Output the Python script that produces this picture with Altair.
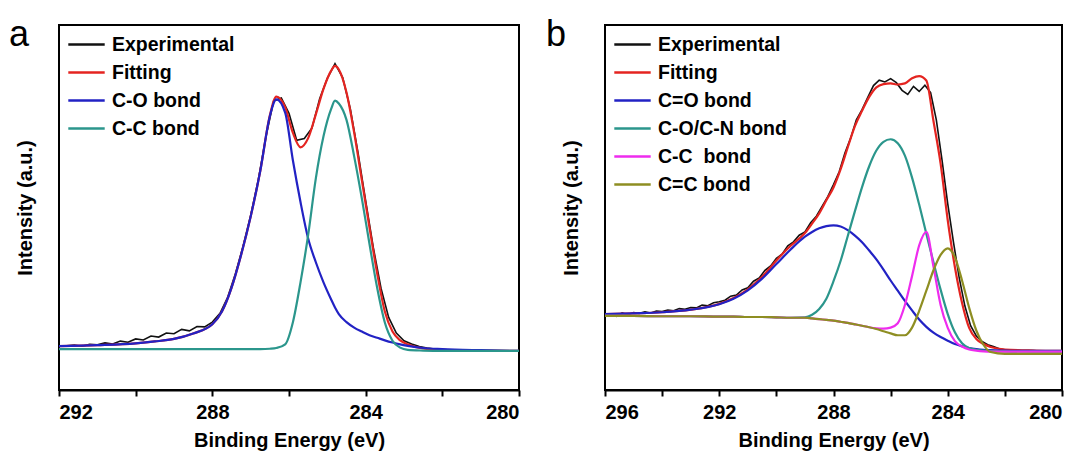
import altair as alt
import pandas as pd

# ---------------- Panel a data ----------------
E_A = [292, 291, 290, 289.5, 289, 288.5, 288, 287.75, 287.5, 287.25, 287, 286.75, 286.5, 286.33,
       286.1, 285.9, 285.7, 285.5, 285.3, 285.1, 284.9, 284.8, 284.7, 284.5, 284.3, 284.1, 283.9,
       283.7, 283.5, 283.3, 283.1, 282.9, 282.5, 282, 281, 280]
FIT_A = [12.0, 12.3, 12.8, 13.3, 14.0, 15.5, 18.0, 21.5, 28.0, 37.0, 47.5, 60.0, 75.2, 80.4,
         77.5, 70.5, 66.5, 69.0, 75.5, 82.5, 87.5, 88.8, 87.8, 81.5, 70.5, 57.5, 44.5,
         32.0, 21.5, 16.0, 13.6, 12.5, 11.4, 11.0, 10.8, 10.7]
CO_A = [12.0, 12.3, 12.8, 13.3, 14.0, 15.5, 18.0, 21.5, 28.0, 37.0, 47.5, 60.0, 75.0, 79.6,
        76.0, 63.0, 51.5, 41.5, 35.0, 29.5, 24.8, 22.6, 20.8, 18.6, 17.1, 16.0, 15.0,
        14.3, 13.6, 13.0, 12.5, 12.1, 11.5, 11.2, 10.9, 10.7]
CC_A = [11.2, 11.2, 11.2, 11.2, 11.2, 11.2, 11.2, 11.2, 11.2, 11.2, 11.2, 11.2, 11.3, 11.5,
        12.5, 18.5, 29.5, 42.5, 58.0, 69.5, 77.0, 79.3, 78.5, 74.0, 64.0, 52.5, 40.0,
        28.0, 18.5, 13.5, 11.6, 11.0, 10.8, 10.7, 10.7, 10.7]
EXP_E_A = [round(292 - 0.2 * i, 1) for i in range(61)]
EXP_A = [12.0, 12.1, 12.3, 12.0, 12.5, 12.4, 12.9, 12.6, 13.4, 13.1, 14.0, 13.7, 14.8, 14.5,
         15.6, 15.4, 16.6, 16.2, 17.4, 17.3, 18.6,
         21.0, 25.4, 31.8, 39.3, 47.8, 57.6, 69.5, 79.2, 80.0, 75.8, 68.4, 68.9, 71.8, 79.8,
         85.4, 89.4, 85.6, 77.0, 65.0, 51.8,
         39.0, 27.9, 19.9, 15.6, 13.5, 12.6, 11.9, 11.5, 11.2, 11.0, 10.9, 10.9, 10.8, 10.8,
         10.8, 10.7, 10.7, 10.7, 10.7, 10.7]

# ---------------- Panel b data ----------------
E_B = [296, 295, 294, 293, 292, 291.5, 291, 290.5, 290, 289.5, 289, 288.75, 288.5, 288.25, 288,
       287.75, 287.5, 287.25, 287, 286.75, 286.5, 286.25, 286, 285.75, 285.5, 285.25, 285,
       284.75, 284.5, 284.25, 284, 283.75, 283.5, 283.25, 283, 282.75, 282.5, 282, 281, 280]
FIT_B = [20.8, 21.0, 21.3, 22.0, 23.6, 25.2, 27.6, 31.0, 35.5, 39.5, 43.0, 45.6, 48.4, 52.0, 55.5,
         60.5, 66.5, 72.3, 76.5, 80.3, 82.9, 83.8, 84.0, 83.7, 84.0, 85.4, 86.0,
         84.8, 73.7, 62.0, 46.5, 33.7, 23.9, 17.0, 14.0, 12.6, 11.8, 11.1, 10.8, 10.7]
CEO_B = [20.8, 21.0, 21.3, 22.0, 23.5, 25.0, 27.3, 30.5, 34.5, 38.5, 42.0, 43.3, 44.3, 44.9, 45.1,
         44.8, 43.8, 42.3, 40.5, 38.2, 35.8, 33.0, 30.0, 27.2, 24.4, 21.8, 19.3,
         17.3, 15.7, 14.5, 13.5, 12.6, 12.0, 11.5, 11.2, 11.0, 10.9, 10.8, 10.7, 10.7]
CON_B = [20.3, 20.3, 20.2, 20.2, 20.1, 20.1, 20.0, 20.0, 19.9, 19.8, 19.9, 20.6, 22.2, 25.0, 29.8,
         35.4, 42.2, 49.0, 55.6, 61.3, 65.6, 68.0, 68.7, 67.6, 64.2, 58.2, 50.8,
         42.8, 35.0, 27.5, 20.8, 15.8, 12.8, 11.5, 11.0, 10.8, 10.7, 10.6, 10.5, 10.5]
CC_B = [20.3, 20.3, 20.2, 20.2, 20.1, 20.1, 20.0, 20.0, 19.9, 19.8, 19.8, 19.6, 19.4, 19.2, 19.0,
        18.7, 18.4, 18.0, 17.6, 17.2, 16.9, 16.8, 17.1, 18.3, 23.3, 31.2, 39.6,
        43.3, 33.8, 23.3, 17.0, 13.4, 11.9, 11.1, 10.8, 10.6, 10.5, 10.5, 10.5, 10.5]
CEC_B = [20.3, 20.3, 20.2, 20.2, 20.1, 20.1, 20.0, 20.0, 19.9, 19.8, 19.8, 19.6, 19.4, 19.2, 19.0,
         18.7, 18.4, 18.0, 17.6, 17.2, 16.7, 16.1, 15.5, 15.0, 15.0, 17.1, 21.7,
         27.2, 32.8, 37.0, 38.8, 36.4, 30.0, 22.5, 16.3, 12.4, 10.4, 9.9, 9.9, 9.9]
EXP_E_B = [round(296 - 0.2 * i, 1) for i in range(81)]
EXP_B = [20.6, 20.9, 20.2, 21.1, 20.6, 21.2, 21.0, 21.4, 21.1, 21.6, 21.5, 21.9, 21.7, 22.3, 22.1,
         22.6, 22.5, 23.3, 23.1, 23.9, 24.2, 24.6, 25.7, 26.0, 27.4, 28.0, 29.8, 30.7, 32.8,
         34.0, 36.1, 37.2, 39.5, 40.6, 42.4, 43.3, 45.8, 47.6, 50.3, 53.0, 56.3, 59.8, 64.9,
         69.0, 74.0, 76.8, 80.2, 83.4, 84.9, 84.4, 85.3, 84.2, 82.1, 81.0, 83.2, 81.8, 83.5,
         81.5, 74.0, 63.0, 51.0, 40.5, 30.8, 23.0, 17.6, 14.8, 13.3, 12.4, 11.9, 11.3, 11.0,
         10.9, 10.9, 10.8, 10.8, 10.8, 10.7, 10.7, 10.7, 10.7, 10.7]

NAMES_A = ["Experimental", "Fitting", "C-O bond", "C-C bond"]
COLORS_A = ["#111111", "#e42420", "#2222c4", "#2b968c"]
NAMES_B = ["Experimental", "Fitting", "C=O bond", "C-O/C-N bond", "C-C\u00a0 bond", "C=C bond"]
COLORS_B = ["#111111", "#e42420", "#2222c4", "#2b968c", "#ee2cee", "#8e8e22"]

FONT = "Liberation Sans"


def frame(xs, ys, name):
    return pd.DataFrame({"E": xs, "I": ys, "series": name})


def panel(letter, dx, lo, hi, ticks, names, colors, exp, fit, comps, width):
    color = alt.Color(
        "series:N",
        scale=alt.Scale(domain=names, range=colors),
        title=None,
        legend=alt.Legend(
            orient="none", legendX=12, legendY=4, symbolType="M-1.3,0H1.3",
            symbolSize=784, symbolStrokeWidth=2.5, labelFontSize=19.5,
            labelFont=FONT, labelFontWeight="bold", labelColor="black",
            rowPadding=3, padding=0, labelOffset=10, labelLimit=400,
        ),
    )
    x = alt.X(
        "E:Q",
        scale=alt.Scale(domain=[lo, hi], reverse=True, nice=False, zero=False),
        axis=alt.Axis(
            values=ticks, labelExpr="datum.value % 4 == 0 ? datum.label : ''",
            title="Binding Energy (eV)", grid=False, tickSize=6, labelPadding=6,
            titlePadding=8,
        ),
    )
    y = alt.Y(
        "I:Q",
        scale=alt.Scale(domain=[0, 100], nice=False, zero=False),
        axis=alt.Axis(labels=False, ticks=False, grid=False, domain=False,
                      title="Intensity (a.u.)", titlePadding=24),
    )
    layers = [
        alt.Chart(exp).mark_line(strokeWidth=1.6, interpolate="linear").encode(x=x, y=y, color=color),
        alt.Chart(fit).mark_line(strokeWidth=2.2, interpolate="monotone").encode(x=x, y=y, color=color),
    ]
    for c in comps:
        layers.append(
            alt.Chart(c).mark_line(strokeWidth=2.2, interpolate="monotone").encode(x=x, y=y, color=color)
        )
    return alt.layer(*layers).properties(
        width=width, height=365,
        title=alt.TitleParams(letter, anchor="start", frame="group", fontSize=36,
                              font=FONT, fontWeight="normal", color="black",
                              dx=dx, dy=41, offset=-16, baseline="alphabetic"),
    )


pa = panel(
    "a", -50, 280, 292, [292, 290, 288, 286, 284, 282, 280], NAMES_A, COLORS_A,
    frame(EXP_E_A, EXP_A, "Experimental"), frame(E_A, FIT_A, "Fitting"),
    [frame(E_A, CO_A, NAMES_A[2]), frame(E_A, CC_A, NAMES_A[3])], 460,
)
pb = panel(
    "b", -59, 280, 296, [296, 294, 292, 290, 288, 286, 284, 282, 280], NAMES_B, COLORS_B,
    frame(EXP_E_B, EXP_B, "Experimental"), frame(E_B, FIT_B, "Fitting"),
    [frame(E_B, CEO_B, NAMES_B[2]), frame(E_B, CON_B, NAMES_B[3]),
     frame(E_B, CC_B, NAMES_B[4]), frame(E_B, CEC_B, NAMES_B[5])], 457,
)

chart = (
    alt.hconcat(pa, pb, spacing=20)
    .resolve_scale(x="independent", y="independent", color="independent")
    .resolve_legend(color="independent")
    .properties(padding={"left": 0, "top": 8, "right": 0, "bottom": 0}, background="white")
    .configure_view(stroke="black", strokeWidth=2)
    .configure_axis(
        domainColor="black", domainWidth=2, tickColor="black", tickWidth=2,
        labelFont=FONT, labelFontWeight="bold", labelFontSize=20, labelColor="black",
        titleFont=FONT, titleFontWeight="bold", titleFontSize=20, titleColor="black",
    )
)

chart.save("out.html", embed_options={"renderer": "svg", "actions": False})
